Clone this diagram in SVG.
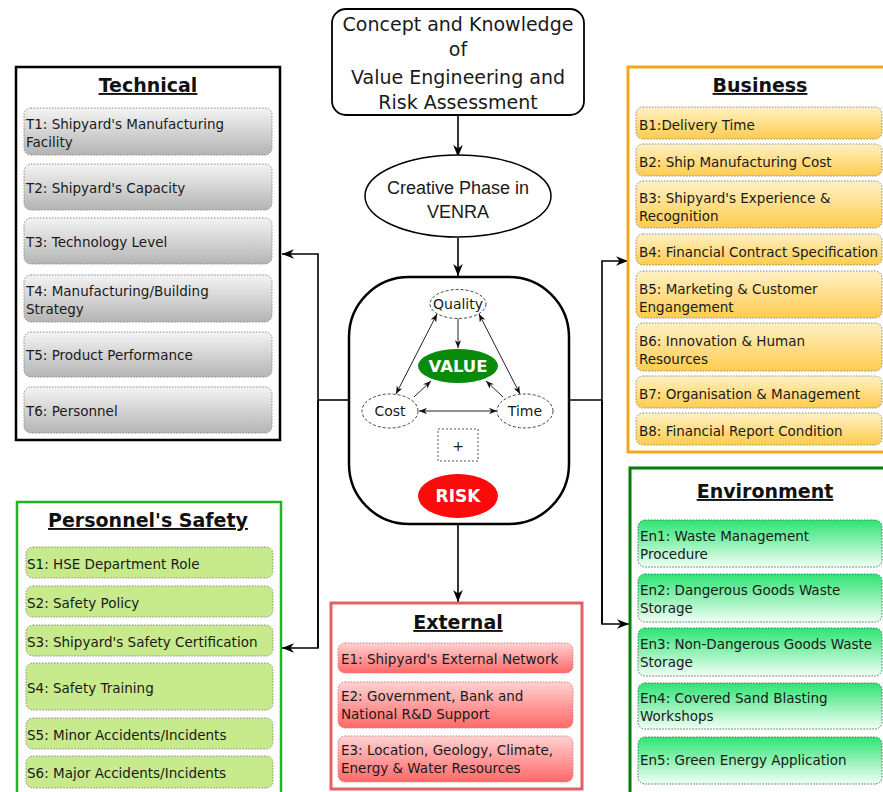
<svg xmlns="http://www.w3.org/2000/svg" width="883" height="792" viewBox="0 0 883 792">
  <defs>
    <style>
      .txt { font-family: "DejaVu Sans", Verdana, sans-serif; fill: #1a1a1a; }
      .item { font-size: 13.5px; }
      .title { font-size: 19px; font-weight: bold; text-decoration: underline; text-anchor: middle; fill: #111; }
      .box { stroke: #8a8a8a; stroke-width: 1; stroke-dasharray: 1.5 1.5; }
      .conn { fill: none; stroke: #000; stroke-width: 1.6; }
      .thin { fill: none; stroke: #222; stroke-width: 1; }
      .oval { fill: #fff; stroke: #444; stroke-width: 1; stroke-dasharray: 3 2; }
    </style>
    <linearGradient id="gGray" x1="0" y1="0" x2="0" y2="1">
      <stop offset="0" stop-color="#f4f4f4"/>
      <stop offset="1" stop-color="#b4b4b4"/>
    </linearGradient>
    <linearGradient id="gYellow" x1="0" y1="0" x2="0" y2="1">
      <stop offset="0" stop-color="#fff1c4"/>
      <stop offset="1" stop-color="#ffcc4e"/>
    </linearGradient>
    <linearGradient id="gPink" x1="0" y1="0" x2="0" y2="1">
      <stop offset="0" stop-color="#ffd2d2"/>
      <stop offset="1" stop-color="#ff6868"/>
    </linearGradient>
    <linearGradient id="gEnv" x1="0" y1="0" x2="0" y2="1">
      <stop offset="0" stop-color="#2ee473"/>
      <stop offset="1" stop-color="#f2fff6"/>
    </linearGradient>
    <marker id="arr" viewBox="0 0 10 8" refX="10" refY="4" markerWidth="12" markerHeight="10" markerUnits="userSpaceOnUse" orient="auto-start-reverse">
      <path d="M0,0 L10,4 L0,8 L3,4 z" fill="#000"/>
    </marker>
    <marker id="arrS" viewBox="0 0 10 8" refX="10" refY="4" markerWidth="8" markerHeight="6.5" markerUnits="userSpaceOnUse" orient="auto-start-reverse">
      <path d="M0,0 L10,4 L0,8 L3,4 z" fill="#111"/>
    </marker>
  </defs>

  <rect width="883" height="792" fill="#fff"/>

  <!-- connectors -->
  <g id="connectors">
    <line class="conn" x1="458" y1="116" x2="458" y2="157" marker-end="url(#arr)"/>
    <line class="conn" x1="458" y1="238" x2="458" y2="276" marker-end="url(#arr)"/>
    <line class="conn" x1="458" y1="524" x2="458" y2="602" marker-end="url(#arr)"/>
    <polyline class="conn" points="349,400 318,400"/>
    <polyline class="conn" points="318,648 318,254 282,254" marker-end="url(#arr)"/>
    <polyline class="conn" points="318,400 318,648 282,648" marker-end="url(#arr)"/>
    <polyline class="conn" points="569,400 602,400"/>
    <polyline class="conn" points="602,624 602,261 628,261" marker-end="url(#arr)"/>
    <polyline class="conn" points="602,400 602,624 629,624" marker-end="url(#arr)"/>
  </g>

  <!-- concept box -->
  <g id="concept">
    <rect x="332" y="9" width="252" height="106" rx="14" fill="#fff" stroke="#000" stroke-width="1.8"/>
    <g class="txt" font-size="19" text-anchor="middle">
      <text x="458" y="31">Concept and Knowledge</text>
      <text x="458" y="56">of</text>
      <text x="458" y="84">Value Engineering and</text>
      <text x="458" y="109">Risk Assessment</text>
    </g>
  </g>

  <!-- creative phase -->
  <g id="creative">
    <ellipse cx="458" cy="196" rx="93" ry="41" fill="#fff" stroke="#000" stroke-width="1.5"/>
    <g font-family="Liberation Sans, Arial, sans-serif" font-size="18" text-anchor="middle" fill="#1a1a1a">
      <text x="458" y="194">Creative Phase in</text>
      <text x="458" y="218">VENRA</text>
    </g>
  </g>

  <!-- VENRA core -->
  <g id="core">
    <rect x="349" y="277" width="220" height="247" rx="60" fill="#fff" stroke="#000" stroke-width="2.5"/>
    <line class="thin" x1="458" y1="318" x2="458" y2="348" marker-end="url(#arrS)"/>
    <line class="thin" x1="437" y1="314" x2="396" y2="394" marker-start="url(#arrS)" marker-end="url(#arrS)"/>
    <line class="thin" x1="479" y1="314" x2="520" y2="394" marker-start="url(#arrS)" marker-end="url(#arrS)"/>
    <line class="thin" x1="414" y1="397" x2="431" y2="381" marker-end="url(#arrS)"/>
    <line class="thin" x1="503" y1="397" x2="486" y2="381" marker-end="url(#arrS)"/>
    <line class="thin" x1="419" y1="411" x2="497" y2="411" marker-start="url(#arrS)" marker-end="url(#arrS)"/>
    <g id="quality">
      <ellipse class="oval" cx="458" cy="304" rx="28" ry="14.5"/>
      <text class="txt" x="458" y="309" font-size="14" text-anchor="middle">Quality</text>
    </g>
    <g id="value">
      <ellipse cx="458" cy="366" rx="40" ry="17" fill="#088a0b"/>
      <text class="txt" x="458" y="372" font-size="16.5" font-weight="bold" text-anchor="middle" style="fill:#fff">VALUE</text>
    </g>
    <g id="cost">
      <ellipse class="oval" cx="390" cy="411" rx="28" ry="17"/>
      <text class="txt" x="390" y="416" font-size="14" text-anchor="middle">Cost</text>
    </g>
    <g id="time">
      <ellipse class="oval" cx="525" cy="411" rx="28" ry="17"/>
      <text class="txt" x="525" y="416" font-size="14" text-anchor="middle">Time</text>
    </g>
    <g id="plus">
      <rect x="438" y="429" width="40" height="32" fill="#fff" stroke="#555" stroke-width="1" stroke-dasharray="2 2"/>
      <text class="txt" x="458" y="451" font-size="14" text-anchor="middle" style="fill:#222">+</text>
    </g>
    <g id="risk">
      <ellipse cx="458" cy="496" rx="40" ry="22" fill="#ff0a0a"/>
      <text class="txt" x="458" y="502" font-size="17" font-weight="bold" text-anchor="middle" style="fill:#fff">RISK</text>
    </g>
  </g>

  <!-- Technical -->
  <g id="technical">
    <rect x="16" y="67" width="264" height="373" fill="#fff" stroke="#000" stroke-width="2.5"/>
    <text class="txt title" x="148" y="92">Technical</text>
    <g fill="url(#gGray)">
      <rect class="box" x="24" y="108" width="248" height="47" rx="7"/>
      <rect class="box" x="24" y="164" width="248" height="46" rx="7"/>
      <rect class="box" x="24" y="218" width="248" height="46" rx="7"/>
      <rect class="box" x="24" y="275" width="248" height="47" rx="7"/>
      <rect class="box" x="24" y="332" width="248" height="45" rx="7"/>
      <rect class="box" x="24" y="387" width="248" height="46" rx="7"/>
    </g>
    <g class="txt item">
      <text x="26" y="129">T1: Shipyard's Manufacturing</text>
      <text x="26" y="147">Facility</text>
      <text x="26" y="193">T2: Shipyard's Capacity</text>
      <text x="26" y="247">T3: Technology Level</text>
      <text x="26" y="296">T4: Manufacturing/Building</text>
      <text x="26" y="314">Strategy</text>
      <text x="26" y="360">T5: Product Performance</text>
      <text x="26" y="416">T6: Personnel</text>
    </g>
  </g>

  <!-- Business -->
  <g id="business">
    <rect x="628" y="67" width="270" height="385" fill="#fff" stroke="#f5a81c" stroke-width="3"/>
    <text class="txt title" x="760" y="92">Business</text>
    <g fill="url(#gYellow)">
      <rect class="box" x="636" y="107" width="246" height="32" rx="7"/>
      <rect class="box" x="636" y="144" width="246" height="32" rx="7"/>
      <rect class="box" x="636" y="181" width="246" height="47" rx="7"/>
      <rect class="box" x="636" y="234" width="246" height="31" rx="7"/>
      <rect class="box" x="636" y="271" width="246" height="47" rx="7"/>
      <rect class="box" x="636" y="323" width="246" height="48" rx="7"/>
      <rect class="box" x="636" y="376" width="246" height="32" rx="7"/>
      <rect class="box" x="636" y="413" width="246" height="32" rx="7"/>
    </g>
    <g class="txt item">
      <text x="639" y="130">B1:Delivery Time</text>
      <text x="639" y="167">B2: Ship Manufacturing Cost</text>
      <text x="639" y="203">B3: Shipyard's Experience &amp;</text>
      <text x="639" y="221">Recognition</text>
      <text x="639" y="257">B4: Financial Contract Specification</text>
      <text x="639" y="294">B5: Marketing &amp; Customer</text>
      <text x="639" y="312">Engangement</text>
      <text x="639" y="346">B6: Innovation &amp; Human</text>
      <text x="639" y="364">Resources</text>
      <text x="639" y="399">B7: Organisation &amp; Management</text>
      <text x="639" y="436">B8: Financial Report Condition</text>
    </g>
  </g>

  <!-- Personnel's Safety -->
  <g id="safety">
    <rect x="17" y="502" width="264" height="300" fill="#fff" stroke="#1fb51f" stroke-width="2.5"/>
    <text class="txt title" x="148" y="527">Personnel's Safety</text>
    <g fill="#c7ea8d">
      <rect class="box" x="26" y="547" width="247" height="31" rx="7"/>
      <rect class="box" x="26" y="586" width="247" height="31" rx="7"/>
      <rect class="box" x="26" y="625" width="247" height="31" rx="7"/>
      <rect class="box" x="26" y="663" width="247" height="47" rx="7"/>
      <rect class="box" x="26" y="718" width="247" height="31" rx="7"/>
      <rect class="box" x="26" y="756" width="247" height="32" rx="7"/>
    </g>
    <g class="txt item">
      <text x="27" y="569">S1: HSE Department Role</text>
      <text x="27" y="608">S2: Safety Policy</text>
      <text x="27" y="647">S3: Shipyard's Safety Certification</text>
      <text x="27" y="693">S4: Safety Training</text>
      <text x="27" y="740">S5: Minor Accidents/Incidents</text>
      <text x="27" y="778">S6: Major Accidents/Incidents</text>
    </g>
  </g>

  <!-- External -->
  <g id="external">
    <rect x="331" y="603" width="251" height="186" fill="#fff" stroke="#e06262" stroke-width="3"/>
    <text class="txt title" x="458" y="629">External</text>
    <g fill="url(#gPink)">
      <rect class="box" x="338" y="643" width="235" height="30" rx="7" style="stroke:#e07a7a"/>
      <rect class="box" x="338" y="682" width="235" height="46" rx="7" style="stroke:#e07a7a"/>
      <rect class="box" x="338" y="736" width="235" height="46" rx="7" style="stroke:#e07a7a"/>
    </g>
    <g class="txt item">
      <text x="341" y="664">E1: Shipyard's External Network</text>
      <text x="341" y="701">E2: Government, Bank and</text>
      <text x="341" y="719">National R&amp;D Support</text>
      <text x="341" y="755">E3: Location, Geology, Climate,</text>
      <text x="341" y="773">Energy &amp; Water Resources</text>
    </g>
  </g>

  <!-- Environment -->
  <g id="environment">
    <rect x="630" y="468" width="270" height="334" fill="#fff" stroke="#087a08" stroke-width="3"/>
    <text class="txt title" x="765" y="498">Environment</text>
    <g fill="url(#gEnv)">
      <rect class="box" x="638" y="520" width="244" height="47" rx="7" style="stroke:#3a7a4a"/>
      <rect class="box" x="638" y="574" width="244" height="48" rx="7" style="stroke:#3a7a4a"/>
      <rect class="box" x="638" y="628" width="244" height="48" rx="7" style="stroke:#3a7a4a"/>
      <rect class="box" x="638" y="683" width="244" height="46" rx="7" style="stroke:#3a7a4a"/>
      <rect class="box" x="638" y="737" width="244" height="47" rx="7" style="stroke:#3a7a4a"/>
    </g>
    <g class="txt item">
      <text x="640" y="541">En1: Waste Management</text>
      <text x="640" y="559">Procedure</text>
      <text x="640" y="595">En2: Dangerous Goods Waste</text>
      <text x="640" y="613">Storage</text>
      <text x="640" y="649">En3: Non-Dangerous Goods Waste</text>
      <text x="640" y="667">Storage</text>
      <text x="640" y="703">En4: Covered Sand Blasting</text>
      <text x="640" y="721">Workshops</text>
      <text x="640" y="765">En5: Green Energy Application</text>
    </g>
  </g>
</svg>
